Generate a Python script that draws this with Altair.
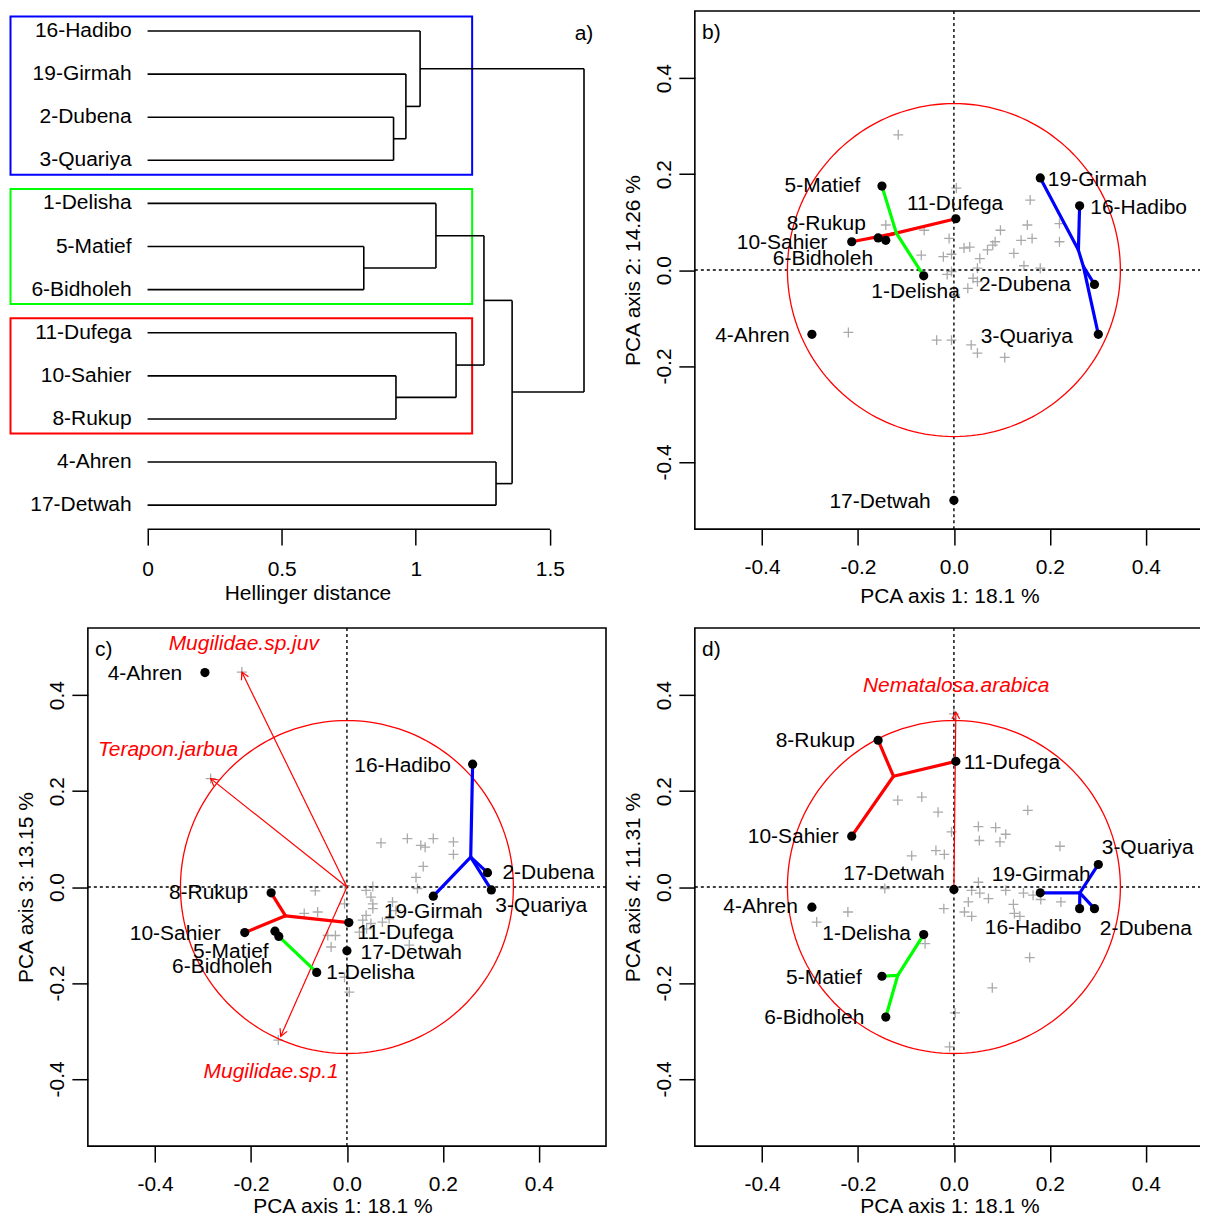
import math
import numpy as np
import pandas as pd
import altair as alt

FONT = "Liberation Sans"
FS = 21
W = 519
H = 519
DOM = [-0.54, 0.54]
TICKS = [-0.4, -0.2, 0.0, 0.2, 0.4]

# ---------------- data ----------------
sites = ["16-Hadibo", "19-Girmah", "2-Dubena", "3-Quariya", "1-Delisha", "5-Matief",
         "6-Bidholeh", "11-Dufega", "10-Sahier", "8-Rukup", "4-Ahren", "17-Detwah"]

# dendrogram (hclust style merges; negative = leaf position, positive = earlier merge)
merge_a = [-3, -2, -1, -6, -5, -9, -8, 5, -11, 8, 3]
merge_b = [-4, 1, 2, -7, 4, -10, 6, 7, -12, 9, 10]
merge_h = [0.917, 0.963, 1.016, 0.806, 1.075, 0.926, 1.150, 1.254, 1.299, 1.359, 1.627]
box_first = [1, 5, 8]
box_last = [4, 7, 10]
box_group = ["C1", "C2", "C3"]
dist_ticks = [0, 0.5, 1, 1.5]

# site scores
pc1 = [0.262, 0.180, 0.293, 0.301, -0.063, -0.150, -0.142, 0.004, -0.213, -0.158, -0.296, 0.000]
pc2 = [0.134, 0.192, -0.030, -0.134, -0.012, 0.175, 0.062, 0.107, 0.059, 0.067, -0.134, -0.480]
pc3 = [0.256, -0.019, 0.030, -0.006, -0.178, -0.092, -0.103, -0.074, -0.095, -0.012, 0.447, -0.133]
pc4 = [-0.045, -0.012, -0.045, 0.047, -0.099, -0.186, -0.271, 0.262, 0.106, 0.306, -0.042, -0.005]

# label anchors (text centres) per panel
lab_b_x = [0.385, 0.299, 0.148, 0.152, -0.080, -0.274, -0.273, 0.0025, -0.358, -0.266, -0.420, -0.154]
lab_b_y = [0.129, 0.188, -0.031, -0.139, -0.045, 0.175, 0.023, 0.137, 0.057, 0.096, -0.137, -0.483]
lab_c_x = [0.116, 0.180, 0.420, 0.405, 0.049, -0.242, -0.260, 0.122, -0.358, -0.2885, -0.421, 0.134]
lab_c_y = [0.252, -0.053, 0.030, -0.040, -0.179, -0.135, -0.167, -0.095, -0.097, -0.012, 0.445, -0.137]
lab_d_x = [0.165, 0.182, 0.400, 0.404, -0.182, -0.271, -0.291, 0.121, -0.335, -0.289, -0.403, -0.125]
lab_d_y = [-0.086, 0.026, -0.087, 0.082, -0.0985, -0.190, -0.2735, 0.259, 0.1035, 0.304, -0.042, 0.027]

# cluster link junctions and links
b_junctions = {"J1": (0.2595, 0.0416), "J2": (0.270, 0.007), "Jg": (-0.120, 0.077), "Jr": (-0.125, 0.076)}
b_links = [("19-Girmah", "J1", "C1"), ("16-Hadibo", "J1", "C1"), ("J1", "J2", "C1"),
           ("J2", "2-Dubena", "C1"), ("J2", "3-Quariya", "C1"),
           ("10-Sahier", "Jr", "C3"), ("8-Rukup", "Jr", "C3"), ("Jr", "11-Dufega", "C3"),
           ("5-Matief", "Jg", "C2"), ("Jg", "1-Delisha", "C2")]
c_junctions = {"Jb": (0.258, 0.0625), "Jr": (-0.128, -0.060)}
c_links = [("16-Hadibo", "Jb", "C1"), ("Jb", "19-Girmah", "C1"), ("Jb", "2-Dubena", "C1"),
           ("Jb", "3-Quariya", "C1"),
           ("8-Rukup", "Jr", "C3"), ("10-Sahier", "Jr", "C3"), ("Jr", "11-Dufega", "C3"),
           ("5-Matief", "6-Bidholeh", "C2"), ("6-Bidholeh", "1-Delisha", "C2")]
d_junctions = {"Jb": (0.2625, -0.012), "Jr": (-0.126, 0.231), "Jg": (-0.117, -0.184)}
d_links = [("19-Girmah", "Jb", "C1"), ("Jb", "3-Quariya", "C1"), ("Jb", "16-Hadibo", "C1"),
           ("Jb", "2-Dubena", "C1"),
           ("8-Rukup", "Jr", "C3"), ("10-Sahier", "Jr", "C3"), ("Jr", "11-Dufega", "C3"),
           ("1-Delisha", "Jg", "C2"), ("5-Matief", "Jg", "C2"), ("Jg", "6-Bidholeh", "C2")]

# species scores (grey crosses)
b_sp_x = [-0.116, 0.005, 0.159, -0.142, -0.062, 0.097, 0.153, 0.220, 0.140, 0.163, 0.220, -0.010, 0.021,
          0.033, 0.070, 0.081, 0.086, -0.022, -0.005, 0.054, 0.125, 0.146, 0.180, -0.068, 0.049, -0.014,
          -0.005, 0.040, 0.049, 0.029, 0.002, -0.220, -0.036, -0.005, 0.036, 0.049, 0.106]
b_sp_y = [0.282, 0.171, 0.146, 0.094, 0.083, 0.083, 0.094, 0.097, 0.062, 0.066, 0.059, 0.066, 0.046,
          0.048, 0.042, 0.052, 0.059, 0.028, 0.033, 0.024, 0.035, 0.009, 0.004, 0.031, 0.004, -0.009,
          -0.003, -0.017, -0.024, -0.038, -0.052, -0.130, -0.146, -0.146, -0.156, -0.173, -0.182]
c_sp_x = [0.071, 0.126, 0.154, 0.163, 0.180, 0.222, 0.222, 0.159, 0.144, 0.147, 0.054, 0.040, 0.050,
          0.054, 0.095, -0.066, -0.005, -0.061, -0.089, 0.054, 0.102, -0.024, -0.040, -0.033, 0.033,
          0.040, 0.026, 0.041, 0.050, 0.074, 0.088, 0.130, -0.005, 0.005, -0.219, -0.284, -0.143, -0.004]
c_sp_y = [0.092, 0.101, 0.087, 0.083, 0.101, 0.094, 0.068, 0.043, 0.020, -0.003, 0.001, -0.007, -0.021,
          -0.035, -0.031, -0.008, -0.035, -0.052, -0.055, -0.045, -0.049, -0.101, -0.101, -0.125, -0.069,
          -0.059, -0.094, -0.087, -0.076, -0.073, -0.066, -0.121, -0.188, -0.219, 0.448, 0.226, -0.319, 0.003]
d_sp_x = [0.0, -0.117, -0.067, -0.033, 0.154, -0.005, 0.051, 0.087, 0.108, 0.053, 0.096, 0.221, -0.0375,
          -0.020, -0.088, -0.144, 0.051, 0.037, 0.054, 0.072, 0.108, 0.145, 0.165, 0.181, 0.223, 0.030,
          -0.021, 0.022, 0.037, 0.124, 0.126, 0.1375, -0.221, -0.286, -0.060, 0.158, 0.080, 0.0025, -0.009]
d_sp_y = [0.361, 0.181, 0.1875, 0.156, 0.160, 0.115, 0.126, 0.124, 0.110, 0.097, 0.094, 0.085, 0.076,
          0.068, 0.065, -0.003, 0.010, -0.007, -0.0125, -0.024, -0.007, -0.0125, -0.017, -0.026, -0.031,
          -0.031, -0.045, -0.052, -0.061, -0.036, -0.055, -0.061, -0.052, -0.073, -0.118, -0.147, -0.210,
          -0.2625, -0.333]

# species arrows
c_arrow_names = ["Mugilidae.sp.juv", "Terapon.jarbua", "Mugilidae.sp.1"]
c_arrow_x = [-0.219, -0.284, -0.138]
c_arrow_y = [0.448, 0.226, -0.311]
c_arrow_lx = [-0.215, -0.373, -0.158]
c_arrow_ly = [0.506, 0.286, -0.385]
d_arrow_names = ["Nematalosa.arabica"]
d_arrow_x = [0.004]
d_arrow_y = [0.365]
d_arrow_lx = [0.0046]
d_arrow_ly = [0.419]

CIRCLE_R = 0.347

# ---------------- styles ----------------
GROUP_SCALE = alt.Scale(domain=["C1", "C2", "C3"], range=["#0000ff", "#00ff00", "#ff0000"])
CROSS = "M-1,0L1,0M0,-1L0,1"
CHEVRON = "M-0.55,1L0,0L0.55,1"
GREY = "#aaaaaa"

common_axis = dict(domain=False, grid=False, ticks=True, tickSize=16, tickWidth=1.5, tickColor="black",
                   labelFont=FONT, labelFontSize=FS, labelColor="black", titleFont=FONT,
                   titleFontSize=FS, titleFontWeight="normal", titleColor="black",
                   labelOverlap=False, labelFlush=False)
HYPHEN_EXPR = "replace(format(datum.value, '.1f'), '\u2212', '-')"


def pca_panel(tag, ys, ytitle, lab_x, lab_y, junctions, links, sp_x, sp_y, xtitle_y,
              arrow_names=None, arrow_x=None, arrow_y=None, arrow_lx=None, arrow_ly=None):
    sc = alt.Scale(domain=DOM, nice=False, zero=False)
    axx = alt.Axis(title="PCA axis 1: 18.1 %", values=TICKS, labelExpr=HYPHEN_EXPR,
                   labelPadding=28, labelBaseline="alphabetic", labelAlign="center",
                   titleX=255, titleY=xtitle_y, titleAlign="center", titleBaseline="alphabetic",
                   **common_axis)
    axy = alt.Axis(title=ytitle, values=TICKS, labelExpr=HYPHEN_EXPR, labelAngle=270,
                   labelPadding=8, labelAlign="center", labelBaseline="alphabetic",
                   titleX=-55, titleY=H / 2, titleAngle=270, titleAlign="center",
                   titleBaseline="alphabetic", **common_axis)

    def X(f):
        return alt.X(f, type="quantitative", scale=sc, axis=axx)

    def Y(f):
        return alt.Y(f, type="quantitative", scale=sc, axis=axy)

    layers = []
    sp = pd.DataFrame({"x": sp_x, "y": sp_y})
    layers.append(alt.Chart(sp).mark_point(shape=CROSS, filled=False, size=100, color=GREY,
                                           strokeWidth=1.3, opacity=1).encode(x=X("x"), y=Y("y")))
    zero = pd.DataFrame({"x": [0.0], "y": [0.0]})
    layers.append(alt.Chart(zero).mark_rule(color="black", strokeDash=[3, 3], strokeWidth=1.4)
                  .encode(x=X("x")))
    layers.append(alt.Chart(zero).mark_rule(color="black", strokeDash=[3, 3], strokeWidth=1.4)
                  .encode(y=Y("y")))
    th = np.linspace(0, 2 * math.pi, 181)
    circ = pd.DataFrame({"x": CIRCLE_R * np.cos(th), "y": CIRCLE_R * np.sin(th), "i": np.arange(len(th))})
    layers.append(alt.Chart(circ).mark_line(color="#ff0000", strokeWidth=1.3)
                  .encode(x=X("x"), y=Y("y"), order=alt.Order("i:Q")))
    if arrow_names:
        ang = [(math.degrees(math.atan2(ax_, ay_)) + 360) % 360 for ax_, ay_ in zip(arrow_x, arrow_y)]
        arr = pd.DataFrame({"name": arrow_names, "x0": [0.0] * len(arrow_x), "y0": [0.0] * len(arrow_x),
                            "x": arrow_x, "y": arrow_y, "ang": ang, "lx": arrow_lx, "ly": arrow_ly})
        layers.append(alt.Chart(arr).mark_rule(color="#ff0000", strokeWidth=1.2)
                      .encode(x=X("x0"), y=Y("y0"), x2="x", y2="y"))
        layers.append(alt.Chart(arr).mark_point(shape=CHEVRON, filled=False, size=200, color="#ff0000",
                                                strokeWidth=1.2, opacity=1)
                      .encode(x=X("x"), y=Y("y"), angle=alt.Angle("ang:Q", scale=None)))
        layers.append(alt.Chart(arr).mark_text(font=FONT, fontSize=FS, fontStyle="italic", color="#ff0000",
                                               align="center", baseline="middle")
                      .encode(x=X("lx"), y=Y("ly"), text="name:N"))
    pts = {s: (x, y) for s, x, y in zip(sites, pc1, ys)}
    pts.update(junctions)
    segs = pd.DataFrame([dict(x=pts[a][0], y=pts[a][1], x2=pts[b][0], y2=pts[b][1], g=g)
                         for a, b, g in links])
    layers.append(alt.Chart(segs).mark_rule(strokeWidth=3.2, strokeCap="round")
                  .encode(x=X("x"), y=Y("y"), x2="x2", y2="y2",
                          color=alt.Color("g:N", scale=GROUP_SCALE, legend=None)))
    dots = pd.DataFrame({"site": sites, "x": pc1, "y": ys, "lx": lab_x, "ly": lab_y})
    layers.append(alt.Chart(dots).mark_circle(size=85, color="black", opacity=1)
                  .encode(x=X("x"), y=Y("y")))
    layers.append(alt.Chart(dots).mark_text(font=FONT, fontSize=FS, color="black",
                                            align="center", baseline="middle")
                  .encode(x=X("lx"), y=Y("ly"), text="site:N"))
    tagdf = pd.DataFrame({"t": [tag], "x": [-0.525], "y": [0.495]})
    layers.append(alt.Chart(tagdf).mark_text(font=FONT, fontSize=FS, color="black",
                                             align="left", baseline="middle")
                  .encode(x=X("x"), y=Y("y"), text="t:N"))
    return alt.layer(*layers).properties(width=W, height=H)


# ---------------- panel a: dendrogram ----------------
def node_of(c, merged):
    if c < 0:
        return float(-c), 0.0
    return merged[c - 1]


merged = []
rows = []
for l, r, h in zip(merge_a, merge_b, merge_h):
    yl, hl = node_of(l, merged)
    yr, hr = node_of(r, merged)
    rows.append(dict(x=hl, x2=h, y=yl, y2=yl))
    rows.append(dict(x=hr, x2=h, y=yr, y2=yr))
    rows.append(dict(x=h, x2=h, y=yl, y2=yr))
    merged.append(((yl + yr) / 2, h))
dseg = pd.DataFrame(rows)

A_XDOM = [-0.2226, 1.709]
A_YDOM = [0.537, 12.556]
scx_a = alt.Scale(domain=A_XDOM, nice=False, zero=False)
scy_a = alt.Scale(domain=A_YDOM, nice=False, zero=False, reverse=True)
ax_a = alt.Axis(title="Hellinger distance", values=dist_ticks, format="~g", labelPadding=30,
                labelBaseline="alphabetic", labelAlign="center", titleX=220, titleY=70,
                titleAlign="center", titleBaseline="alphabetic", **common_axis)


def XA(f):
    return alt.X(f, type="quantitative", scale=scx_a, axis=ax_a)


def YA(f):
    return alt.Y(f, type="quantitative", scale=scy_a, axis=None)


BOX_X0, BOX_X1, BOX_PAD = -0.511, 1.210, 0.335
boxes = pd.DataFrame({"g": box_group, "x0": [BOX_X0] * 3, "x1": [BOX_X1] * 3,
                      "y0": [f - BOX_PAD for f in box_first], "y1": [l + BOX_PAD for l in box_last]})
leafdf = pd.DataFrame({"site": sites, "y": list(range(1, len(sites) + 1)), "h": [0.0] * len(sites)})
baseline = pd.DataFrame({"x0": [dist_ticks[0]], "x1": [dist_ticks[-1]]})
atag = pd.DataFrame({"t": ["a)"], "x": [1.627], "y": [1.07]})

pa = alt.layer(
    alt.Chart(boxes).mark_rect(fillOpacity=0, strokeWidth=2)
    .encode(x=XA("x0"), x2="x1", y=YA("y0"), y2="y1",
            stroke=alt.Stroke("g:N", scale=GROUP_SCALE, legend=None)),
    alt.Chart(dseg).mark_rule(color="black", strokeWidth=1.6)
    .encode(x=XA("x"), x2="x2", y=YA("y"), y2="y2"),
    alt.Chart(leafdf).mark_text(font=FONT, fontSize=FS, color="black", align="right",
                                baseline="middle", dx=-16)
    .encode(x=XA("h"), y=YA("y"), text="site:N"),
    alt.Chart(baseline).mark_rule(color="black", strokeWidth=1.5)
    .encode(x=XA("x0"), x2="x1", y=alt.value(H)),
    alt.Chart(atag).mark_text(font=FONT, fontSize=FS, color="black", align="center", baseline="middle")
    .encode(x=XA("x"), y=YA("y"), text="t:N"),
).properties(width=W, height=H, view=alt.ViewBackground(stroke="transparent"))

pb = pca_panel("b)", pc2, "PCA axis 2: 14.26 %", lab_b_x, lab_b_y, b_junctions, b_links, b_sp_x, b_sp_y, 73)
pc = pca_panel("c)", pc3, "PCA axis 3: 13.15 %", lab_c_x, lab_c_y, c_junctions, c_links, c_sp_x, c_sp_y, 67,
               c_arrow_names, c_arrow_x, c_arrow_y, c_arrow_lx, c_arrow_ly)
pdd = pca_panel("d)", pc4, "PCA axis 4: 11.31 %", lab_d_x, lab_d_y, d_junctions, d_links, d_sp_x, d_sp_y, 67,
                d_arrow_names, d_arrow_x, d_arrow_y, d_arrow_lx, d_arrow_ly)

chart = alt.concat(pa, pb, pc, pdd, columns=2, spacing={"row": 99, "column": 89}, bounds="flush") \
    .properties(padding={"left": 0, "top": 0, "right": -15, "bottom": -3}) \
    .configure_view(stroke="black", strokeWidth=1.6)

chart.save("out.html", embed_options={"renderer": "svg", "actions": False})
